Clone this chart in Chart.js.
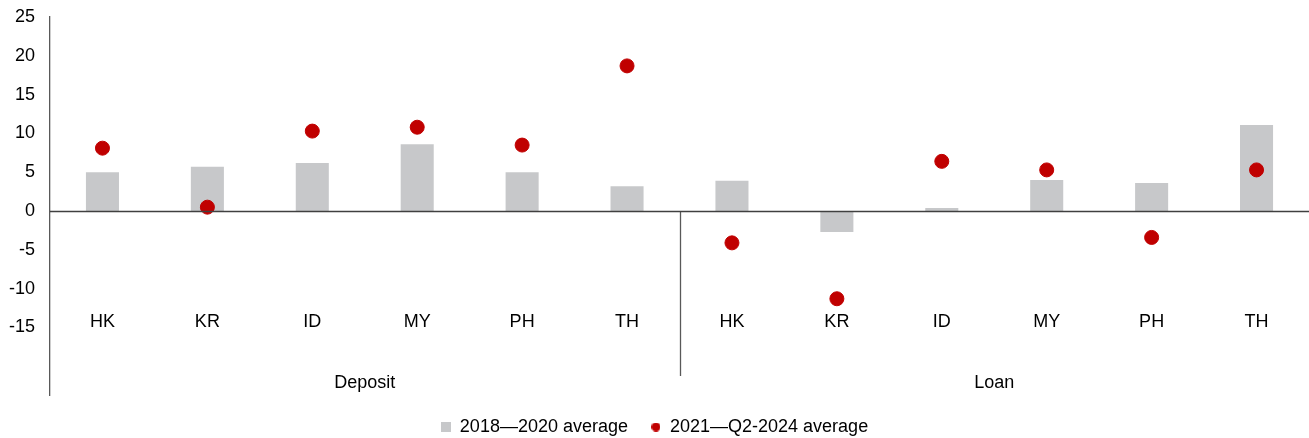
<!DOCTYPE html>
<html><head><meta charset="utf-8">
<script src="https://cdn.jsdelivr.net/npm/chart.js@4.4.1/dist/chart.umd.min.js"></script>
<style>html,body{margin:0;padding:0;background:#fff}#wrap{width:1309px;height:438px}</style>
</head><body><div id="wrap"><canvas id="c" width="1309" height="438"></canvas></div>
<script>
const categories = ["HK","KR","ID","MY","PH","TH","HK","KR","ID","MY","PH","TH"];
const groups = ["Deposit","Loan"];
const groupSize = 6;
const avg2018_2020 = [5.0,5.7,6.2,8.6,5.0,3.2, 3.9,-2.7,0.4,4.0,3.6,11.1];
const avg2021_2024 = [8.1,0.5,10.3,10.8,8.5,18.7, -4.1,-11.3,6.4,5.3,-3.4,5.3];
const seriesNames = ["2018\u20142020 average","2021\u2014Q2-2024 average"];
const yTicks = [-15,-10,-5,0,5,10,15,20,25];

const FONT = "'Liberation Sans', Arial, sans-serif";
const BAR_COLOR = '#c7c8ca', DOT_COLOR = '#c00000';

function marker(kind, color){
  const cv = document.createElement('canvas');
  const s = kind === 'rect' ? 10 : 9;
  cv.width = s; cv.height = s;
  const g = cv.getContext('2d');
  g.fillStyle = color;
  if (kind === 'rect') g.fillRect(0,0,s,s);
  else { g.beginPath(); g.arc(s/2,s/2,s/2,0,Math.PI*2); g.fill(); }
  return cv;
}
const legendMarkers = [marker('rect', BAR_COLOR), marker('circle', DOT_COLOR)];

function zeroPad(s){ s.paddingTop = 0; s.paddingBottom = 0; s.paddingLeft = 0; s.paddingRight = 0; }

const labelsPlugin = {
  id:'catLabels',
  afterDraw(chart){
    const ctx = chart.ctx, x = chart.scales.x, y = chart.scales.y, ca = chart.chartArea;
    ctx.save();
    ctx.fillStyle = '#000';
    ctx.font = '18px ' + FONT;
    ctx.textAlign = 'center';
    ctx.textBaseline = 'middle';
    categories.forEach((c,i)=>{ ctx.fillText(c, x.getPixelForValue(i), 322); });
    groups.forEach((g,gi)=>{
      const a = x.getPixelForValue(gi*groupSize), b = x.getPixelForValue(gi*groupSize+groupSize-1);
      ctx.fillText(g, (a+b)/2, 383);
    });
    const step = x.getPixelForValue(1)-x.getPixelForValue(0);
    const sx = Math.round(x.getPixelForValue(groupSize-1)+step/2)+0.5;
    ctx.strokeStyle = '#595959'; ctx.lineWidth = 1.3;
    ctx.beginPath(); ctx.moveTo(sx, y.getPixelForValue(0)); ctx.lineTo(sx, 376); ctx.stroke();
    const zy = Math.round(y.getPixelForValue(0))+0.5;
    ctx.strokeStyle = '#404040'; ctx.lineWidth = 1.3;
    ctx.beginPath(); ctx.moveTo(ca.left, zy); ctx.lineTo(ca.right, zy); ctx.stroke();
    ctx.restore();
  }
};

new Chart(document.getElementById('c'), {
  data:{
    labels: categories,
    datasets:[
      {type:'bar', label: seriesNames[0], data: avg2018_2020, backgroundColor:BAR_COLOR,
       barPercentage:0.315, categoryPercentage:1, order:2},
      {type:'scatter', label: seriesNames[1], data: avg2021_2024.map((v,i)=>({x:i,y:v})), backgroundColor:DOT_COLOR,
       borderColor:DOT_COLOR, pointRadius:7, pointHoverRadius:7, order:1, showLine:false, pointStyle:'circle'}
    ]
  },
  options:{
    responsive:false, animation:false,
    layout:{autoPadding:false, padding:{top:17,right:0,left:0,bottom:-8}},
    scales:{
      x:{type:'category', offset:true, display:false, afterFit: zeroPad},
      y:{min:-23.7, max:25, afterBuildTicks(s){ s.ticks = yTicks.map(v=>({value:v})); },
         afterFit(s){ s.width = 50; zeroPad(s); },
         grid:{display:false, drawTicks:false},
         border:{display:true, color:'#595959', width:1.3},
         ticks:{color:'#000', font:{family:FONT, size:18}, padding:15}
      }
    },
    plugins:{
      legend:{position:'bottom', labels:{usePointStyle:true, boxWidth:10, boxHeight:10, color:'#000',
        font:{family:FONT, size:18}, padding:23,
        sort:(a,b)=>a.datasetIndex-b.datasetIndex,
        generateLabels(chart){
          const items = Chart.defaults.plugins.legend.labels.generateLabels(chart);
          items.forEach(it=>{ it.pointStyle = legendMarkers[it.datasetIndex]; });
          return items;
        }}},
      tooltip:{enabled:false}
    }
  },
  plugins:[labelsPlugin]
});
</script></body></html>
